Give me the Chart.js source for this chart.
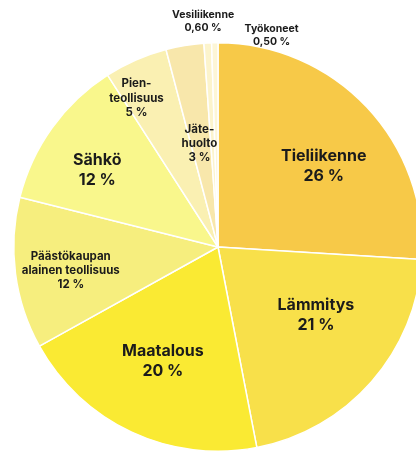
<!DOCTYPE html>
<html lang="fi">
<head>
<meta charset="utf-8">
<script src="https://cdn.jsdelivr.net/npm/chart.js@4.4.1/dist/chart.umd.min.js"></script>
<style>
  html, body { margin: 0; padding: 0; background: #fff; overflow: hidden; }
  #wrap { width: 436px; height: 452px; position: relative; }
</style>
</head>
<body>
<div id="wrap"><canvas id="paastot"></canvas></div>
<script>
// Päästöt sektoreittain (%)
const sektorit = [
  ['Tieliikenne'],
  ['Lämmitys'],
  ['Maatalous'],
  ['Päästökaupan', 'alainen teollisuus'],
  ['Sähkö'],
  ['Pien-', 'teollisuus'],
  ['Jäte-', 'huolto'],
  ['Vesiliikenne'],
  ['Työkoneet']
];
const osuudet = [26, 21, 20, 12, 12, 5, 3, 0.6, 0.5];
const varit = ['#F7C948', '#F8E04A', '#FAEA33', '#F6EE7E', '#F9F78C', '#FAF0B2', '#F8E7AB', '#FCF4CC', '#FDF6D6'];

// tekstien sijainti: [kulmasiirto asteina, osuus säteestä, fonttikoko]
const tekstit = [
  [6, 0.65, 16],
  [-6.3, 0.585, 16],
  [0.8, 0.62, 16],
  [-1.6, 0.73, 11.5],
  [-3.3, 0.70, 16],
  [-5, 0.83, 11.5],
  [-0.8, 0.515, 11.5],
  [-0.9, 1.107, 10.5],
  [15.1, 1.07, 10.5]
];

function prosentti(v) {
  return (Number.isInteger(v) ? String(v) : v.toFixed(2).replace('.', ',')) + ' %';
}

const otsikot = {
  id: 'otsikot',
  afterDraw(chart) {
    const ctx = chart.ctx;
    const arcs = chart.getDatasetMeta(0).data;
    ctx.save();
    ctx.fillStyle = '#1b1b1b';
    ctx.textAlign = 'center';
    ctx.textBaseline = 'middle';
    arcs.forEach((arc, i) => {
      const p = arc.getProps(['x', 'y', 'startAngle', 'endAngle', 'outerRadius'], true);
      const [siirto, osuus, koko] = tekstit[i];
      const kulma = (p.startAngle + p.endAngle) / 2 + siirto * Math.PI / 180;
      const r = p.outerRadius * osuus;
      const cx = p.x + Math.cos(kulma) * r;
      const cy = p.y + Math.sin(kulma) * r;
      const rivit = sektorit[i].concat([prosentti(osuudet[i])]);
      const vali = koko * 1.25;
      ctx.font = '700 ' + koko + 'px Inter, "Open Sans", sans-serif';
      rivit.forEach((t, j) => {
        ctx.fillText(t, cx, cy + (j - (rivit.length - 1) / 2) * vali);
      });
    });
    ctx.restore();
  }
};

new Chart(document.getElementById('paastot'), {
  type: 'pie',
  data: {
    labels: sektorit.map(s => s.join(' ')),
    datasets: [{
      data: osuudet,
      backgroundColor: varit,
      borderColor: '#ffffff',
      borderWidth: 1.5
    }]
  },
  options: {
    responsive: true,
    maintainAspectRatio: false,
    animation: false,
    layout: { padding: { top: 42, bottom: 0, left: 13, right: 13 } },
    plugins: {
      legend: { display: false },
      tooltip: { enabled: false }
    }
  },
  plugins: [otsikot]
});
</script>
</body>
</html>
